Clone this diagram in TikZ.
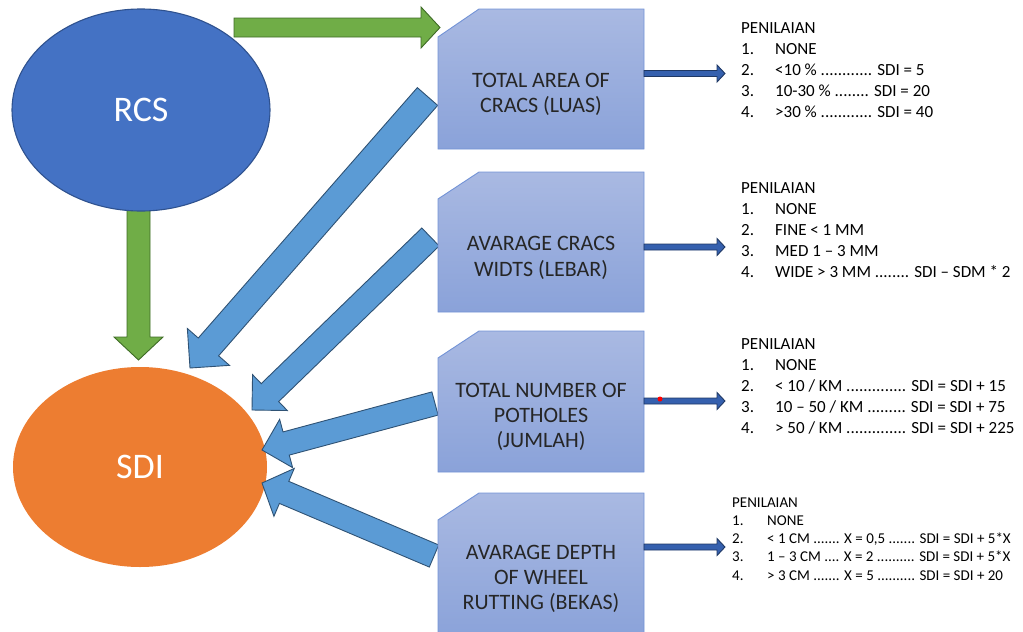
\documentclass[tikz,border=0pt]{standalone}
\usepackage{fontspec}
\setmainfont{Carlito}
\usetikzlibrary{calc,shapes.geometric}
\definecolor{rcsblue}{HTML}{4472C4}
\definecolor{rcsline}{HTML}{2F528F}
\definecolor{sdiorange}{HTML}{ED7D31}
\definecolor{greenfill}{HTML}{70AD47}
\definecolor{greenline}{HTML}{3E6B26}
\definecolor{bluefill}{HTML}{5B9BD5}
\definecolor{blueline}{HTML}{2F5274}
\definecolor{boxtop}{HTML}{A9B9E2}
\definecolor{boxbot}{HTML}{8AA2D9}
\definecolor{boxline}{HTML}{7393D6}
\definecolor{navyfill}{HTML}{3560AE}
\definecolor{navyline}{HTML}{1F3864}
\definecolor{textgray}{HTML}{262626}
\newcommand\fatarrow[6]{%
  \coordinate (fahead) at ($(#2)!#5!(#1)$);
  \path[#6] ($(#1)!#3!90:(#2)$) -- ($(fahead)!#3!90:(#2)$) -- ($(fahead)!#4!90:(#2)$)
    -- (#2) -- ($(fahead)!#4!-90:(#2)$) -- ($(fahead)!#3!-90:(#2)$) -- ($(#1)!#3!-90:(#2)$) -- cycle;
}
\newcommand\boxfont{\fontsize{22}{25.3}\selectfont}
\newcommand\listfont{\fontsize{17}{21}\selectfont}
\newcommand\smalllistfont{\fontsize{15}{18.3}\selectfont}
\tikzset{
  greenarrow/.style={fill=greenfill, draw=greenline, line width=0.9pt, line join=miter},
  bluearrow/.style={fill=bluefill, draw=blueline, line width=0.9pt, line join=miter},
  navyarrow/.style={fill=navyfill, draw=navyline, line width=0.9pt, line join=miter},
  boxshape/.style={top color=boxtop, bottom color=boxbot, draw=boxline, line width=0.9pt},
  boxtext/.style={anchor=base, inner sep=0pt, text=textgray, font=\boxfont},
  listtext/.style={anchor=base west, inner sep=0pt, text=black, font=\listfont},
  biglabel/.style={ellipse, inner sep=0pt, text=white, font=\fontsize{36}{42}\selectfont}
}
\setlength\tabcolsep{0pt}
\begin{document}
\begin{tikzpicture}[x=1pt,y=-1pt]
\useasboundingbox (0,0) rectangle (1023,632);
% ellipses
\node[biglabel, fill=sdiorange, minimum width=254pt, minimum height=200pt] (sdi) at (140,467) {SDI};
% green vertical arrow (behind RCS)
\coordinate (gvt) at (138.5,205);
\coordinate (gvh) at (138.5,360);
\fatarrow{gvt}{gvh}{11.5pt}{24.5pt}{23pt}{greenarrow}
\node[biglabel, fill=rcsblue, draw=rcsline, line width=1.1pt, minimum width=258pt, minimum height=202pt] (rcs) at (141,110) {RCS};
% green horizontal arrow
\coordinate (ght) at (234,27.5);
\coordinate (ghh) at (440,27.5);
\fatarrow{ght}{ghh}{9.5pt}{20.5pt}{19pt}{greenarrow}
% blue fat arrows to SDI
\coordinate (aT) at (427.5,96.5);  \coordinate (aH) at (190,368);
\coordinate (bT) at (430.5,237);   \coordinate (bH) at (252,410);
\coordinate (cT) at (435,403.5);   \coordinate (cH) at (262,450);
\coordinate (dT) at (434,556);     \coordinate (dH) at (262,483);
\fatarrow{aT}{aH}{13.5pt}{28pt}{28pt}{bluearrow}
\fatarrow{bT}{bH}{12.5pt}{25pt}{25pt}{bluearrow}
\fatarrow{cT}{cH}{12pt}{25pt}{25pt}{bluearrow}
\fatarrow{dT}{dH}{12pt}{26pt}{24pt}{bluearrow}
% boxes
\path[boxshape] (479,9) -- (644,9) -- (644,149) -- (438,149) -- (438,37) -- cycle;
\path[boxshape] (479,172) -- (644,172) -- (644,312) -- (438,312) -- (438,199) -- cycle;
\path[boxshape] (479,331) -- (644,331) -- (644,472) -- (438,472) -- (438,358) -- cycle;
\path[boxshape] (479,493) -- (644,493) -- (644,640) -- (438,640) -- (438,520) -- cycle;
\node[boxtext] (b1) at (541,87.3) {\begin{tabular}[t]{c}TOTAL AREA OF\\CRACS (LUAS)\end{tabular}};
\node[boxtext] (b2) at (541,250.7) {\begin{tabular}[t]{c}AVARAGE CRACS\\WIDTS (LEBAR)\end{tabular}};
\node[boxtext] (b3) at (541,397.3) {\begin{tabular}[t]{c}TOTAL NUMBER OF\\POTHOLES\\(JUMLAH)\end{tabular}};
\node[boxtext] (b4) at (541,559.3) {\begin{tabular}[t]{c}AVARAGE DEPTH\\OF WHEEL\\RUTTING (BEKAS)\end{tabular}};
% navy arrows
\coordinate (n1t) at (644,73.5); \coordinate (n1h) at (725,73.5);
\coordinate (n2t) at (644,247);  \coordinate (n2h) at (725,247);
\coordinate (n3t) at (644,401);  \coordinate (n3h) at (725,401);
\coordinate (n4t) at (644,547);  \coordinate (n4h) at (725,547);
\fatarrow{n1t}{n1h}{3pt}{8.5pt}{8pt}{navyarrow}
\fatarrow{n2t}{n2h}{3pt}{8.5pt}{8pt}{navyarrow}
\fatarrow{n3t}{n3h}{3pt}{8.5pt}{8pt}{navyarrow}
\fatarrow{n4t}{n4h}{3pt}{8.5pt}{8pt}{navyarrow}
\node[circle, fill=red, inner sep=0pt, minimum size=5pt] (dot) at (660,399) {};
% lists
\node[listtext] (l1) at (741,33) {\begin{tabular}[t]{@{}p{34pt}@{}l@{}}
\multicolumn{2}{@{}l@{}}{PENILAIAN}\\
1. & NONE\\
2. & <10 \% ............ SDI = 5\\
3. & 10-30 \% ........ SDI = 20\\
4. & >30 \% ............ SDI = 40\end{tabular}};
\node[listtext] (l2) at (741,193) {\begin{tabular}[t]{@{}p{34pt}@{}l@{}}
\multicolumn{2}{@{}l@{}}{PENILAIAN}\\
1. & NONE\\
2. & FINE < 1 MM\\
3. & MED 1 – 3 MM\\
4. & WIDE > 3 MM ........ SDI – SDM * 2\end{tabular}};
\node[listtext] (l3) at (741,349) {\begin{tabular}[t]{@{}p{34pt}@{}l@{}}
\multicolumn{2}{@{}l@{}}{PENILAIAN}\\
1. & NONE\\
2. & < 10 / KM .............. SDI = SDI + 15\\
3. & 10 – 50 / KM ......... SDI = SDI + 75\\
4. & > 50 / KM .............. SDI = SDI + 225\end{tabular}};
\node[listtext, font=\smalllistfont] (l4) at (732,507) {\begin{tabular}[t]{@{}p{35pt}@{}l@{}}
\multicolumn{2}{@{}l@{}}{PENILAIAN}\\
1. & NONE\\
2. & < 1 CM ....... X = 0,5 ....... SDI = SDI + 5*X\\
3. & 1 – 3 CM .... X = 2 .......... SDI = SDI + 5*X\\
4. & > 3 CM ....... X = 5 .......... SDI = SDI + 20\end{tabular}};
\end{tikzpicture}
\end{document}
